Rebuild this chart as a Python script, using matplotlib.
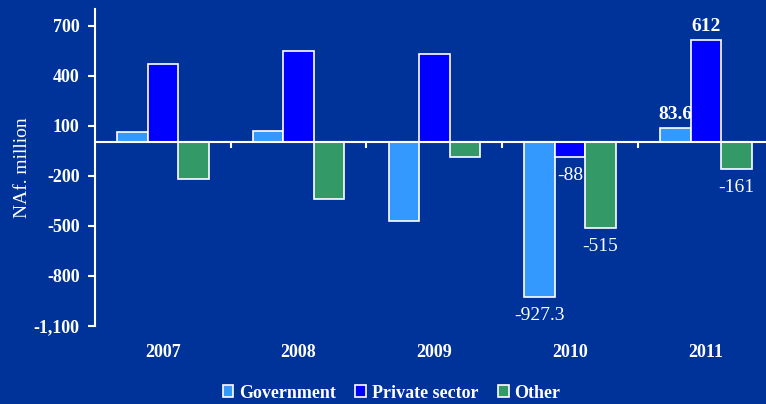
import numpy as np
import matplotlib.pyplot as plt

# net flows by sector, NAf. million
years = ['2007', '2008', '2009', '2010', '2011']
government = [60, 70, -473, -927.3, 83.6]
private_sector = [470, 550, 531, -88, 612]
other = [-220, -340, -89, -515, -161]

bg = '#003399'
colors = ['#3399FF', '#0000FF', '#339966']
series = [('Government', government), ('Private sector', private_sector), ('Other', other)]

plt.rcParams['font.family'] = ['Liberation Serif', 'DejaVu Serif']

fig = plt.figure(figsize=(7.66, 4.04), dpi=100, facecolor=bg)
ax = fig.add_axes([0.124, 0.193, 0.886, 0.785], facecolor=bg)

x = np.arange(len(years))
w = 0.225
for i, (name, vals) in enumerate(series):
    ax.bar(x + (i - 1) * w, vals, w, color=colors[i], edgecolor='white',
           linewidth=1.2, label=name, zorder=3)

# value labels for the last two years
labels = [(3, 0), (3, 1), (3, 2), (4, 0), (4, 1), (4, 2)]
for yi, si in labels:
    v = series[si][1][yi]
    xpos = x[yi] + (si - 1) * w
    txt = f'{v:g}'
    if v >= 0:
        ax.annotate(txt, (xpos, v), xytext=(0, 10), textcoords='offset points',
                    ha='center', va='center', color='white', fontsize=14,
                    fontweight='bold', zorder=2)
    else:
        ax.annotate(txt, (xpos, v), xytext=(0, -13), textcoords='offset points',
                    ha='center', va='center', color='white', fontsize=14,
                    zorder=2)

ax.set_xlim(-0.5, 4.5)
ax.set_ylim(-1100, 800)
ax.set_yticks(np.arange(-1100, 701, 300))
ax.set_yticklabels([f'{t:,}' for t in np.arange(-1100, 701, 300)])
ax.tick_params(axis='y', colors='white', labelsize=13, length=5, width=1.5,
               direction='out', pad=6)
for lbl in ax.get_yticklabels():
    lbl.set_fontweight('bold')

# x axis drawn on the zero line with ticks between groups
ax.spines['bottom'].set_position(('data', 0))
ax.spines['bottom'].set_color('white')
ax.spines['bottom'].set_linewidth(1.5)
ax.spines['bottom'].set_zorder(4)
ax.spines['left'].set_color('white')
ax.spines['left'].set_linewidth(1.5)
ax.spines['top'].set_visible(False)
ax.spines['right'].set_visible(False)
ax.set_xticks(x[:-1] + 0.5)
ax.set_xticklabels([])
ax.tick_params(axis='x', colors='white', length=4, width=1.5, direction='out')

for xi, yr in zip(x, years):
    ax.text(xi, -0.085, yr, transform=ax.get_xaxis_transform(), ha='center',
            va='center', color='white', fontsize=13, fontweight='bold')

ax.set_ylabel('NAf. million', color='white', fontsize=14)
ax.yaxis.set_label_coords(-0.095, 0.5)

leg = fig.legend(loc='center', bbox_to_anchor=(0.511, 0.027), ncol=3, frameon=False,
                 handlelength=0.6, handleheight=0.6, handletextpad=0.3,
                 columnspacing=1.1, prop={'weight': 'bold', 'size': 13})
for t in leg.get_texts():
    t.set_color('white')

fig.savefig('out.png', dpi=100, facecolor=bg)
